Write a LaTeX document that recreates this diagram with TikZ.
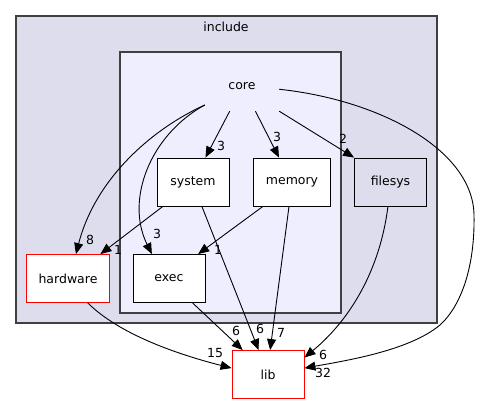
\documentclass[tikz,border=0pt]{standalone}
\usepackage{fontspec}
\setmainfont{DejaVu Sans}
\usetikzlibrary{arrows.meta}
\definecolor{outerbg}{HTML}{DDDDEE}
\definecolor{innerbg}{HTML}{EEEEFF}
\definecolor{frame}{HTML}{404040}

\begin{document}
\begin{tikzpicture}[x=1pt, y=-1pt,
		every node/.style={font=\fontsize{12.5}{15}\selectfont},
		dirbox/.style={draw, fill=white, minimum width=72pt, minimum height=48pt, inner xsep=12pt, line width=0.9pt},
		extbox/.style={dirbox, draw=red},
		dep/.style={line width=0.9pt, -{Triangle[length=11pt, width=9pt]}},
		cnt/.style={inner sep=0pt}]
			\useasboundingbox (0,0) rectangle (481,404);
			% clusters
			\draw[frame, fill=outerbg, line width=1.2pt] (16,16) rectangle (437,323);
			\node (includelbl) at (226,27) {include};
			\draw[frame, fill=innerbg, line width=1.2pt] (120,52) rectangle (341,313);
			% directories
			\node[minimum width=74pt, minimum height=50pt] (core) at (242,86) {core};
			\node[dirbox] (system) at (193,182) {system};
			\node[dirbox] (memory) at (292,182) {memory};
			\node[dirbox, fill=outerbg] (filesys) at (390.5,182) {filesys};
			\node[extbox] (hardware) at (68,278.5) {hardware};
			\node[dirbox] (exec) at (169,278.5) {exec};
			\node[extbox] (lib) at (268,374.5) {lib};
			% dependencies
			\draw[dep] (core.-116) -- (system.63);
			\draw[dep] (core.-62) -- (memory.118);
			\draw[dep] (core.south east) -- (filesys.north west);
			\draw[dep] (core.-153) .. controls (150,130) and (95,180) .. (hardware.72);
			\draw[dep] (core.-153) .. controls (150,135) and (125,200) .. (exec.125);
			\draw[dep] (core.-5) .. controls (380,100) and (473,150) .. (474,215)
				.. controls (475,265) and (462,305) .. (440,325)
				.. controls (410,350) and (350,360) .. (lib.10);
			\draw[dep] (system.-141) -- (hardware.37);
			\draw[dep] (memory.-140) -- (exec.40);
			\draw[dep] (system.-70) -- (lib.111);
			\draw[dep] (memory.-97) -- (lib.85);
			\draw[dep] (exec.-46) -- (lib.136);
			\draw[dep] (hardware.-51) .. controls (120,335) and (180,355) .. (lib.170);
			\draw[dep] (filesys.-96) .. controls (380,270) and (350,320) .. (lib.25);
			% counts
			\node[cnt] (n1) at (221,146) {3};
			\node[cnt] (n2) at (277,137) {3};
			\node[cnt] (n3) at (343,139) {2};
			\node[cnt] (n4) at (90,240) {8};
			\node[cnt] (n5) at (118,250) {1};
			\node[cnt] (n6) at (157,234) {3};
			\node[cnt] (n7) at (218,250) {1};
			\node[cnt] (n8) at (236,331) {6};
			\node[cnt] (n9) at (260,329) {6};
			\node[cnt] (n10) at (281,333) {7};
			\node[cnt] (n11) at (215,353) {15};
			\node[cnt] (n12) at (323,355) {6};
			\node[cnt] (n13) at (323,373) {32};
		\end{tikzpicture}
\end{document}
